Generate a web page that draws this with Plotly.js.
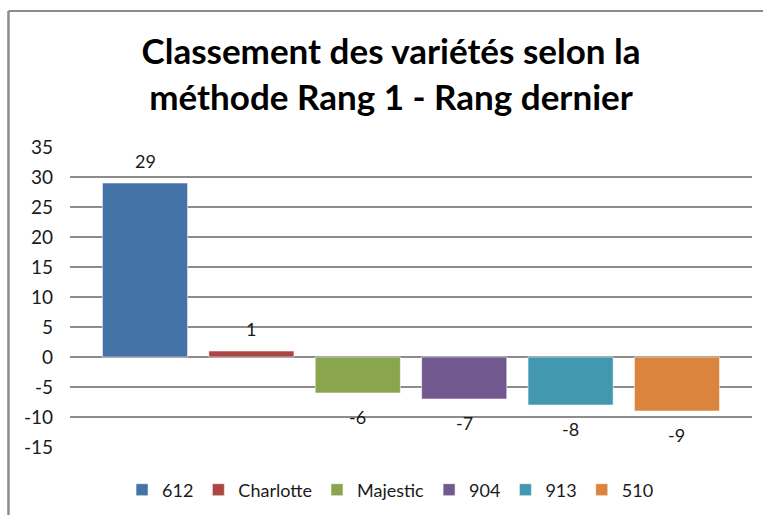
<!DOCTYPE html>
<html>
<head>
<meta charset="utf-8">
<script src="https://cdn.plot.ly/plotly-3.0.1.min.js"></script>
<style>
  html, body { margin: 0; padding: 0; background: #ffffff; }
  #chart { width: 763px; height: 515px; }
</style>
</head>
<body>
<div id="chart"></div>
<script>
// Data
const varieties = ['612', 'Charlotte', 'Majestic', '904', '913', '510'];
const scores = [29, 1, -6, -7, -8, -9];
const seriesColors = ['#4572A7', '#AA4643', '#89A54E', '#71588F', '#4198AF', '#DB843D'];
const yTicks = [-15, -10, -5, 0, 5, 10, 15, 20, 25, 30, 35];

const FONT = 'Lato, "Open Sans", sans-serif';
const gridColor = '#8c8c8c';

const traces = varieties.map((name, i) => ({
  type: 'bar',
  x: [i],
  y: [scores[i]],
  name: name,
  width: 0.8,
  marker: { color: seriesColors[i], line: { color: 'rgba(255,255,255,0.55)', width: 1 } },
  hoverinfo: 'name+y'
}));

const labelAnnotations = varieties.map((name, i) => ({
  x: i,
  y: scores[i],
  xref: 'x',
  yref: 'y',
  text: String(scores[i]),
  showarrow: false,
  yshift: scores[i] >= 0 ? 22 : -24,
  font: { family: FONT, size: 18, color: '#1a1a1a' }
}));

const layout = {
  width: 763,
  height: 515,
  margin: { l: 70, r: 11, t: 147, b: 68, autoexpand: false },
  paper_bgcolor: '#ffffff',
  plot_bgcolor: '#ffffff',
  barmode: 'overlay',
  title: {
    text: 'Classement des variétés selon la<br>méthode Rang 1 - Rang dernier',
    font: { family: FONT, size: 35, color: '#000000', weight: 'bold' },
    x: 0.5125,
    xanchor: 'center',
    xref: 'container',
    y: 1 - 64 / 515,
    yanchor: 'top',
    yref: 'container'
  },
  xaxis: {
    range: [-0.705, 5.705],
    showgrid: false,
    zeroline: false,
    showticklabels: false,
    ticks: '',
    showline: false,
    fixedrange: true,
    automargin: false
  },
  yaxis: {
    range: [-15, 35],
    tickvals: yTicks,
    ticktext: yTicks.map(String),
    showgrid: true,
    gridcolor: gridColor,
    gridwidth: 2,
    zeroline: true,
    zerolinecolor: gridColor,
    zerolinewidth: 2,
    showline: false,
    ticks: '',
    ticklabelstandoff: 16,
    tickfont: { family: FONT, size: 19, color: '#1a1a1a' },
    fixedrange: true,
    automargin: false
  },
  legend: {
    orientation: 'h',
    x: 0.47,
    xanchor: 'center',
    xref: 'paper',
    y: 25 / 515,
    yanchor: 'middle',
    yref: 'container',
    font: { family: FONT, size: 18, color: '#1a1a1a' },
    bgcolor: 'rgba(0,0,0,0)',
    traceorder: 'normal'
  },
  showlegend: true,
  annotations: labelAnnotations,
  shapes: [
    { type: 'line', xref: 'paper', yref: 'paper', x0: -0.0902, x1: -0.0902, y0: 1.4533, y1: -0.3,
      line: { color: '#8c8c8c', width: 2.5 } },
    { type: 'line', xref: 'paper', yref: 'paper', x0: -0.0902, x1: 1.05, y0: 1.4533, y1: 1.4533,
      line: { color: '#8c8c8c', width: 2 } }
  ]
};

Plotly.newPlot('chart', traces, layout, { displayModeBar: false, staticPlot: true });
</script>
</body>
</html>
